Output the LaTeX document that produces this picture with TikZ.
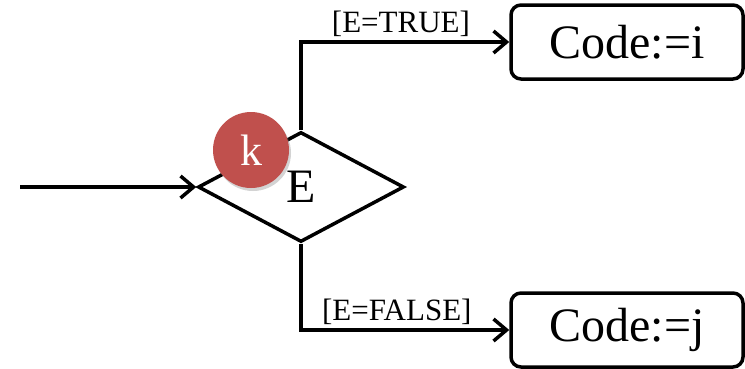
\documentclass[tikz,border=0pt]{standalone}
\usepackage{fontspec}
\setmainfont{Liberation Serif}
\usepackage{tikz}
\definecolor{markcolor}{RGB}{192,80,77}
\usetikzlibrary{arrows.meta,shapes,shadows,positioning}
\tikzset{
	decision/.style={
		diamond,
		draw,
		line width=3.5pt,
		minimum width=206pt,
		minimum height=110pt,
		inner sep=0pt,
		font=\fontsize{48}{50}\selectfont
	},
	codebox/.style={
		rectangle,
		rounded corners=10pt,
		draw,
		line width=3.5pt,
		minimum width=232pt,
		minimum height=74pt,
		font=\fontsize{48}{50}\selectfont
	},
	marker/.style={
		circle,
		fill=markcolor,
		text=white,
		minimum size=76pt,
		inner sep=0pt,
		drop shadow={shadow xshift=2pt,shadow yshift=-3pt,opacity=0.35},
		font=\fontsize{44}{46}\selectfont
	},
	arrow/.style={
		draw,
		line width=3.5pt,
		-{Straight Barb[length=13pt,width=22pt]}
	},
	guard/.style={
		font=\fontsize{31}{33}\selectfont,
		inner sep=4pt
	},
}

\begin{document}
\begin{tikzpicture}[x=1pt,y=-1pt]
	\useasboundingbox (0,0) rectangle (745,368);
	\node[decision] (cond) at (301,187) {E};
	\node[codebox] (codei) at (627,42) {Code:=i};
	\node[codebox] (codej) at (627,330) {Code:=j};
	\coordinate (start) at (20,187);
	\draw[arrow] (start) -- (cond.west);
	\draw[arrow] (cond.north) |- node[guard,pos=0.74,above]{[E=TRUE]} (codei.west);
	\draw[arrow] (cond.south) |- node[guard,pos=0.73,above]{[E=FALSE]} (codej.west);
	\node[marker] (k) at (251,150) {k};
\end{tikzpicture}
\end{document}
